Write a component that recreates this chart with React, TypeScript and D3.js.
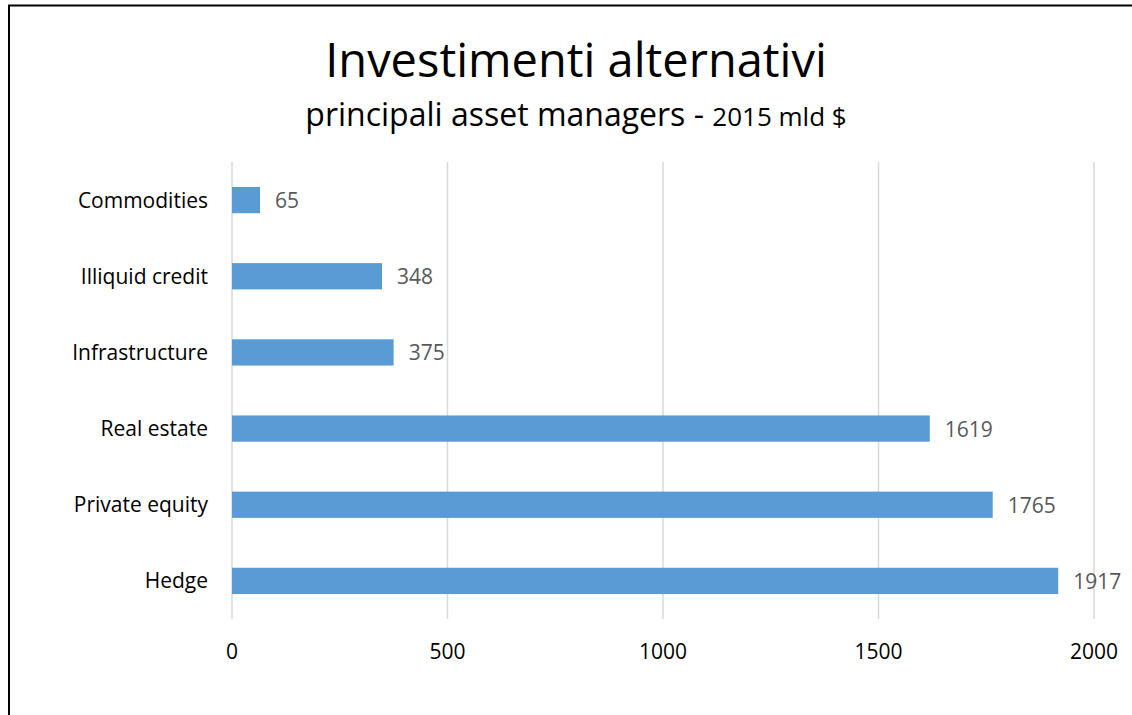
import React from "react";
import * as d3 from "d3";

const categories = ["Commodities", "Illiquid credit", "Infrastructure", "Real estate", "Private equity", "Hedge"];
const values = [65, 348, 375, 1619, 1765, 1917];
const xTicks = [0, 500, 1000, 1500, 2000];

const W = 1132;
const H = 715;
const FONT = "'Open Sans', sans-serif";

export default function App() {
  const x = d3.scaleLinear().domain([0, 2000]).range([232, 1094]);
  const y = d3.scaleBand<string>().domain(categories).range([162, 619]).paddingInner(0.655).paddingOuter(0.3275);
  return (
    <svg width={W} height={H} style={{ position: "absolute", left: 0, top: 0, background: "#fff" }} fontFamily={FONT}>
      <rect x={0} y={0} width={W} height={H} fill="#fff" />
      <path d={`M9,${H + 5} V5.5 H${W + 5}`} fill="none" stroke="#000" strokeWidth={2} />
      <text x={576} y={77} textAnchor="middle" fontSize={47} fill="#000">Investimenti alternativi</text>
      <text x={576} y={126} textAnchor="middle" fill="#000">
        <tspan fontSize={32}>principali asset managers - </tspan>
        <tspan fontSize={26}>2015 mld $</tspan>
      </text>
      {xTicks.map((t) => (
        <g key={t}>
          <line x1={x(t)} x2={x(t)} y1={162} y2={619} stroke="#d9d9d9" strokeWidth={1.5} />
          <text x={x(t)} y={659} textAnchor="middle" fontSize={21} fill="#000">{t}</text>
        </g>
      ))}
      {categories.map((c, i) => (
        <g key={c}>
          <rect x={x(0)} y={y(c)!} width={x(values[i]) - x(0)} height={y.bandwidth()} fill="#5b9bd5" />
          <text x={208} y={y(c)! + y.bandwidth() / 2 + 7.5} textAnchor="end" fontSize={21} fill="#000">{c}</text>
          <text x={x(values[i]) + 15} y={y(c)! + y.bandwidth() / 2 + 8} fontSize={21} fill="#595959">{values[i]}</text>
        </g>
      ))}
    </svg>
  );
}
